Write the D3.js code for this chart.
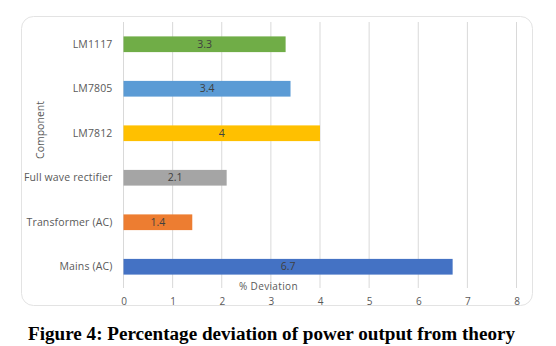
<!DOCTYPE html>
<html><head><meta charset="utf-8">
<script src="https://cdn.jsdelivr.net/npm/d3@7"></script>
<style>body{margin:0;background:#fff}svg{display:block}</style>
</head><body>
<svg id="c" width="556" height="346"></svg>
<script>
const categories = ["LM1117","LM7805","LM7812","Full wave rectifier","Transformer (AC)","Mains (AC)"];
const values = [3.3, 3.4, 4, 2.1, 1.4, 6.7];
const colors = ["#70ad47","#5b9bd5","#ffc000","#a5a5a5","#ed7d31","#4472c4"];
const xTicks = [0,1,2,3,4,5,6,7,8];
const xTitle = "% Deviation";
const yTitle = "Component";
const caption = "Figure 4: Percentage deviation of power output from theory";

const svg = d3.select("#c");
const font = "'Open Sans', sans-serif";

// frame
svg.append("rect").attr("x",21.5).attr("y",16.5).attr("width",511).attr("height",289)
  .attr("rx",12).attr("fill","#fff").attr("stroke","#e3e3e3").attr("stroke-width",1);

const x = d3.scaleLinear().domain([0,8]).range([123.5,516.5]);
const y = d3.scaleBand().domain(categories).range([22,289]).paddingInner(0.647).paddingOuter(0.3235);

// gridlines
svg.append("g").selectAll("line").data(xTicks).join("line")
  .attr("x1",d=>x(d)).attr("x2",d=>x(d)).attr("y1",22).attr("y2",288)
  .attr("stroke","#d9d9d9").attr("stroke-width",1);

// bars
svg.append("g").selectAll("rect").data(categories).join("rect")
  .attr("x",x(0)).attr("y",d=>y(d)).attr("width",(d,i)=>x(values[i])-x(0))
  .attr("height",y.bandwidth()).attr("fill",(d,i)=>colors[i]);

// value labels
svg.append("g").selectAll("text").data(categories).join("text")
  .attr("x",(d,i)=>(x(0)+x(values[i]))/2).attr("y",d=>y(d)+y.bandwidth()/2)
  .attr("dy","0.35em").attr("text-anchor","middle")
  .attr("font-family",font).attr("font-size",10.5).attr("fill","#404040")
  .text((d,i)=>values[i]);

// x axis
const xa = svg.append("g").attr("transform","translate(0,298.5)")
  .call(d3.axisBottom(x).tickValues(xTicks).tickSize(0).tickPadding(3).tickFormat(d3.format("d")));
xa.select(".domain").remove();
xa.selectAll("text").attr("font-family",font).attr("font-size",10).attr("fill","#595959").attr("dy","0.32em");

// y axis
const ya = svg.append("g").attr("transform",`translate(${x(0)},0)`)
  .call(d3.axisLeft(y).tickSize(0).tickPadding(11));
ya.select(".domain").remove();
ya.selectAll("text").attr("font-family",font).attr("font-size",10.5).attr("letter-spacing",0.15).attr("fill","#595959");

// titles
svg.append("text").attr("x",239).attr("y",287).attr("dy","0.32em")
  .attr("font-family",font).attr("font-size",10).attr("letter-spacing",0.35).attr("fill","#595959").text(xTitle);
svg.append("text").attr("transform","translate(40,130) rotate(-90)").attr("text-anchor","middle")
  .attr("dy","0.35em").attr("font-family",font).attr("font-size",10.5).attr("fill","#595959").text(yTitle);

// caption
svg.append("text").attr("x",28).attr("y",340).attr("textLength",487).attr("lengthAdjust","spacingAndGlyphs")
  .attr("font-family","'Liberation Serif', 'Times New Roman', serif").attr("font-weight","bold")
  .attr("font-size",18.5).attr("fill","#000").text(caption);
</script>
</body></html>
